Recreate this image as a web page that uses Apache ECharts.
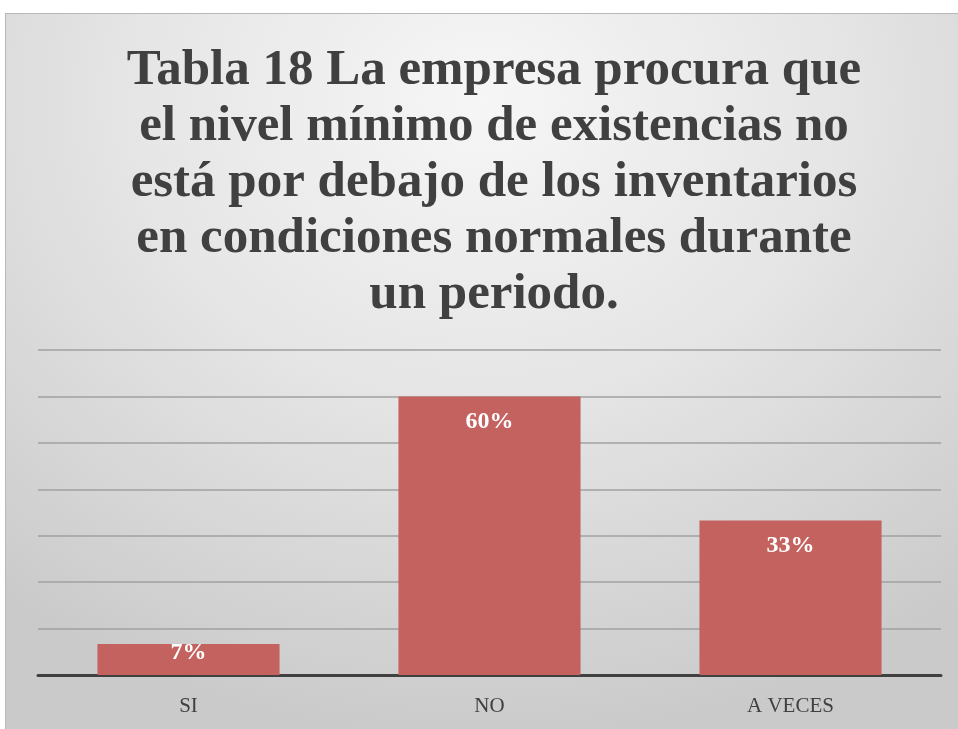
<!DOCTYPE html>
<html>
<head>
<meta charset="utf-8">
<script src="https://cdn.jsdelivr.net/npm/echarts@6/dist/echarts.min.js"></script>
<style>
  html, body { margin: 0; padding: 0; background: #fff; }
  #bg {
    position: absolute; left: 5px; top: 13px; width: 953px; height: 716px;
    border-left: 1px solid #b8b8b8; border-top: 1px solid #b8b8b8;
    background: radial-gradient(ellipse 80% 90% at 50% 12%, #f6f6f6 0%, #e6e6e6 45%, #cacaca 100%);
  }
  #chart { position: absolute; left: 0; top: 0; width: 958px; height: 729px; }
</style>
</head>
<body>
<div id="bg"></div>
<div id="chart"></div>
<script>
// datos
const categorias = ["SI", "NO", "A VECES"];
const porcentajes = [6.7, 60, 33.3];
const titulo = "Tabla 18 La empresa procura que\nel nivel mínimo de existencias no\nestá por debajo de los inventarios\nen condiciones normales durante\nun periodo.";

const chart = echarts.init(document.getElementById("chart"));

// la barra pequeña lleva la etiqueta casi en el borde
const datos = porcentajes.map((v) => {
  if (v < 10) {
    return { value: v, label: { distance: -3 } };
  }
  return { value: v };
});

const option = {
  backgroundColor: "transparent",
  title: {
    text: titulo,
    left: 489,
    top: 38,
    textAlign: "center",
    textStyle: {
      fontFamily: "Liberation Serif",
      fontWeight: "bold",
      fontSize: 51,
      lineHeight: 56,
      color: "#404040",
    },
  },
  grid: { left: 38, right: 17, top: 350, bottom: 54 },
  xAxis: {
    type: "category",
    data: categorias,
    axisTick: { show: false },
    axisLine: { lineStyle: { color: "#404040", width: 3 } },
    axisLabel: {
      margin: 21,
      fontFamily: "Liberation Serif",
      fontSize: 21,
      color: "#404040",
    },
  },
  yAxis: {
    type: "value",
    min: 0,
    max: 70,
    interval: 10,
    axisLabel: { show: false },
    axisLine: { show: false },
    axisTick: { show: false },
    splitLine: { lineStyle: { color: "#a0a0a0", width: 1.5 } },
  },
  series: [
    {
      type: "bar",
      data: datos,
      barCategoryGap: "39.5%",
      itemStyle: { color: "#c4625f" },
      label: {
        show: true,
        position: "insideTop",
        distance: 13,
        formatter: (p) => Math.round(p.value) + "%",
        fontFamily: "Liberation Serif",
        fontWeight: "bold",
        fontSize: 24,
        color: "#ffffff",
      },
    },
  ],
};

chart.setOption(option);
</script>
</body>
</html>
